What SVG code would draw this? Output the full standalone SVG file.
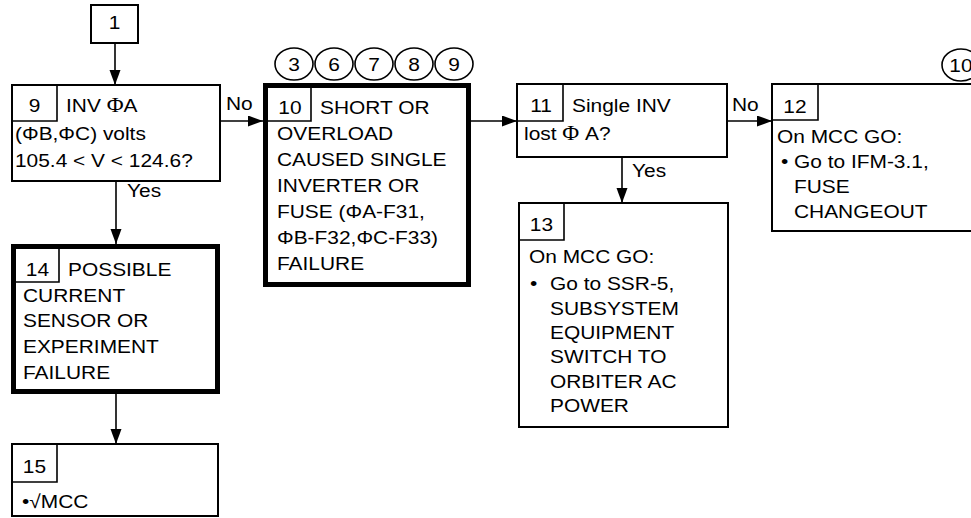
<svg xmlns="http://www.w3.org/2000/svg" width="971" height="518" viewBox="0 0 971 518">
<defs>
<style>
text{font-family:"Liberation Sans",Arial,sans-serif;font-size:19px;fill:#000}
.c{text-anchor:middle}
.thin{fill:#fff;stroke:#000;stroke-width:2}
.thick{fill:#fff;stroke:#000;stroke-width:5}
.sub{fill:none;stroke:#000;stroke-width:1.6}
.cn{stroke:#000;stroke-width:1.6;fill:none}
.ref{fill:#fff;stroke:#000;stroke-width:1.6}
.ser{font-family:"Liberation Serif","Times New Roman",serif;font-size:21px}
</style>
<marker id="ah" markerUnits="userSpaceOnUse" markerWidth="16" markerHeight="12" refX="15" refY="5.5" orient="auto">
<path d="M0,0 L15,5.5 L0,11 z" fill="#000"/>
</marker>
</defs>
<rect width="971" height="518" fill="#fff"/>

<g id="connectors">
<line class="cn" x1="115" y1="43" x2="115" y2="85" marker-end="url(#ah)"/>
<line class="cn" x1="220" y1="121" x2="263" y2="121" marker-end="url(#ah)"/>
<line class="cn" x1="471" y1="121" x2="517" y2="121" marker-end="url(#ah)"/>
<line class="cn" x1="727" y1="121" x2="772" y2="121" marker-end="url(#ah)"/>
<line class="cn" x1="622" y1="157" x2="622" y2="203" marker-end="url(#ah)"/>
<line class="cn" x1="116" y1="181" x2="116" y2="244" marker-end="url(#ah)"/>
<line class="cn" x1="116" y1="394" x2="116" y2="444" marker-end="url(#ah)"/>
<text transform="translate(226,110) scale(1.1,1)">No</text>
<text transform="translate(732,111) scale(1.1,1)">No</text>
<text transform="translate(127,197) scale(1.1,1)">Yes</text>
<text transform="translate(632,177) scale(1.1,1)">Yes</text>
</g>

<g id="node1">
<rect class="thin" x="91" y="5" width="47" height="38"/>
<text class="c" transform="translate(114.5,29) scale(1.1,1)">1</text>
</g>

<g id="node9">
<rect class="thin" x="12" y="85" width="208" height="96"/>
<path class="sub" d="M12,121 H57 V85"/>
<text class="c" transform="translate(34.5,112) scale(1.1,1)">9</text>
<text transform="translate(66,112) scale(1.1,1)">INV <tspan class="ser">Φ</tspan>A</text>
<text transform="translate(15,140) scale(1.1,1)">(ΦB,ΦC) volts</text>
<text transform="translate(15,167) scale(1.1,1)">105.4 &lt; V &lt; 124.6?</text>
</g>

<g id="refs">
<ellipse class="ref" cx="294" cy="64" rx="19" ry="16"/>
<ellipse class="ref" cx="334" cy="64" rx="19" ry="16"/>
<ellipse class="ref" cx="374" cy="64" rx="19" ry="16"/>
<ellipse class="ref" cx="414" cy="64" rx="19" ry="16"/>
<ellipse class="ref" cx="454" cy="64" rx="19" ry="16"/>
<text class="c" transform="translate(294,71) scale(1.1,1)">3</text>
<text class="c" transform="translate(334,71) scale(1.1,1)">6</text>
<text class="c" transform="translate(374,71) scale(1.1,1)">7</text>
<text class="c" transform="translate(414,71) scale(1.1,1)">8</text>
<text class="c" transform="translate(454,71) scale(1.1,1)">9</text>
<ellipse class="ref" cx="961" cy="65" rx="19" ry="16"/>
<text class="c" transform="translate(961,72) scale(1.1,1)">10</text>
</g>

<g id="node10">
<rect class="thick" x="265.5" y="85.5" width="203" height="199"/>
<path class="sub" d="M265.5,121 H311 V85.5"/>
<text class="c" transform="translate(290,114) scale(1.1,1)">10</text>
<text transform="translate(320,114) scale(1.1,1)">SHORT OR</text>
<text transform="translate(277,140) scale(1.1,1)">OVERLOAD</text>
<text transform="translate(277,166) scale(1.1,1)">CAUSED SINGLE</text>
<text transform="translate(277,192) scale(1.1,1)">INVERTER OR</text>
<text transform="translate(277,218) scale(1.1,1)">FUSE (ΦA-F31,</text>
<text transform="translate(277,244) scale(1.1,1)">ΦB-F32,ΦC-F33)</text>
<text transform="translate(277,270) scale(1.1,1)">FAILURE</text>
</g>

<g id="node11">
<rect class="thin" x="517" y="84" width="210" height="73"/>
<path class="sub" d="M517,121 H563 V84"/>
<text class="c" transform="translate(541,112) scale(1.1,1)">11</text>
<text transform="translate(572,112) scale(1.1,1)">Single INV</text>
<text transform="translate(524,140) scale(1.1,1)">lost <tspan class="ser">Φ</tspan> A?</text>
</g>

<g id="node12">
<rect class="thin" x="772" y="84" width="220" height="147"/>
<path class="sub" d="M772,120 H818 V84"/>
<text class="c" transform="translate(795,113) scale(1.1,1)">12</text>
<text transform="translate(777,143) scale(1.1,1)">On MCC GO:</text>
<text transform="translate(781,168) scale(1.1,1)">•</text>
<text transform="translate(794,168) scale(1.1,1)">Go to IFM-3.1,</text>
<text transform="translate(794,193) scale(1.1,1)">FUSE</text>
<text transform="translate(794,218) scale(1.1,1)">CHANGEOUT</text>
</g>

<g id="node13">
<rect class="thin" x="519" y="203" width="209" height="224"/>
<path class="sub" d="M519,240 H564 V203"/>
<text class="c" transform="translate(541.5,231) scale(1.1,1)">13</text>
<text transform="translate(529,263) scale(1.1,1)">On MCC GO:</text>
<text transform="translate(530,290) scale(1.1,1)">•</text>
<text transform="translate(550,290) scale(1.1,1)">Go to SSR-5,</text>
<text transform="translate(550,315) scale(1.1,1)">SUBSYSTEM</text>
<text transform="translate(550,339) scale(1.1,1)">EQUIPMENT</text>
<text transform="translate(550,363) scale(1.1,1)">SWITCH TO</text>
<text transform="translate(550,388) scale(1.1,1)">ORBITER AC</text>
<text transform="translate(550,412) scale(1.1,1)">POWER</text>
</g>

<g id="node14">
<rect class="thick" x="13.5" y="246.5" width="204" height="145"/>
<path class="sub" d="M13.5,282 H59 V246.5"/>
<text class="c" transform="translate(37.5,276) scale(1.1,1)">14</text>
<text transform="translate(68,276) scale(1.1,1)">POSSIBLE</text>
<text transform="translate(23,302) scale(1.1,1)">CURRENT</text>
<text transform="translate(23,327) scale(1.1,1)">SENSOR OR</text>
<text transform="translate(23,353) scale(1.1,1)">EXPERIMENT</text>
<text transform="translate(23,379) scale(1.1,1)">FAILURE</text>
</g>

<g id="node15">
<rect class="thin" x="12" y="444" width="206" height="72"/>
<path class="sub" d="M12,482 H57 V444"/>
<text class="c" transform="translate(34.5,473) scale(1.1,1)">15</text>
<text transform="translate(22,508) scale(1.1,1)">•√MCC</text>
</g>
</svg>
